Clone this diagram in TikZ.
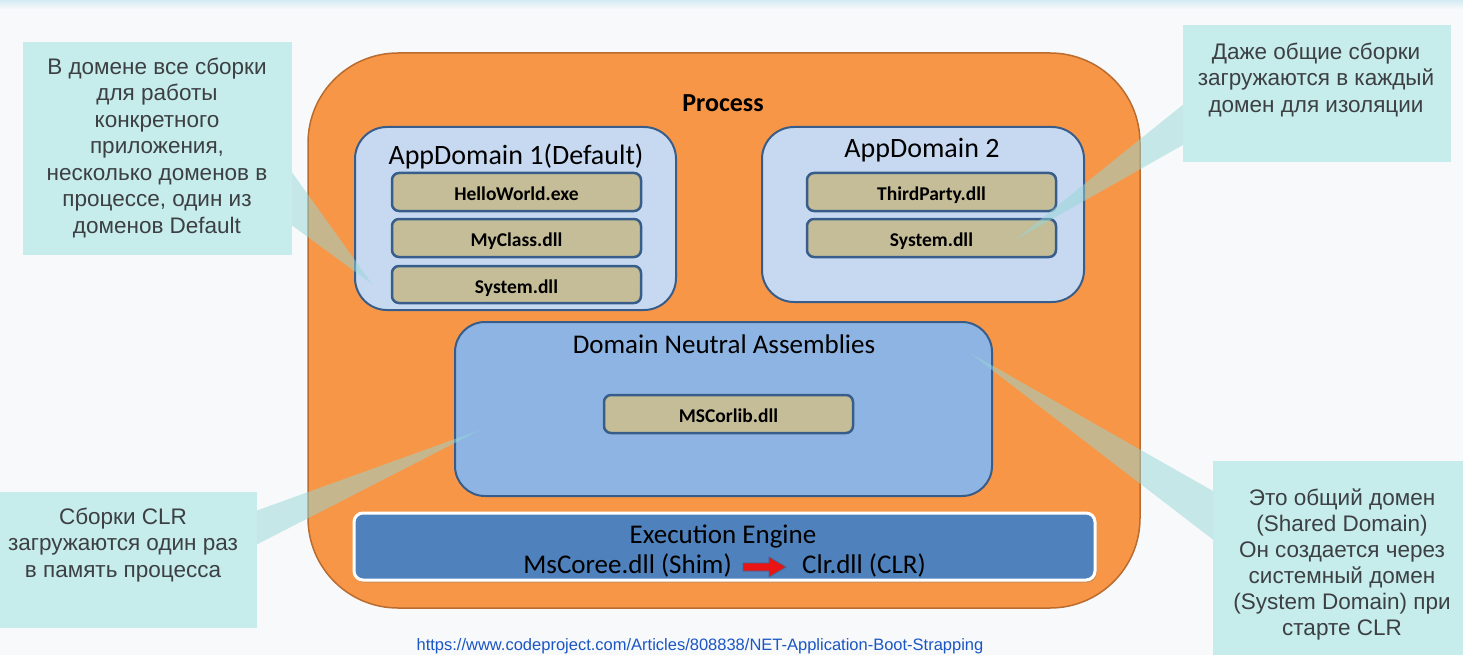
\documentclass[tikz,border=0pt]{standalone}
\usepackage{fontspec}
\setmainfont{Carlito}
\newfontfamily\callfont{Liberation Sans}
\usetikzlibrary{calc,shadows}
\definecolor{bgc}{RGB}{248,249,250}
\definecolor{bandc}{RGB}{212,235,244}
\definecolor{procfill}{RGB}{247,150,70}
\definecolor{procline}{RGB}{186,108,48}
\definecolor{adfill}{RGB}{198,217,241}
\definecolor{edgeblue}{RGB}{56,93,138}
\definecolor{tanfill}{RGB}{196,189,151}
\definecolor{dnafill}{RGB}{142,180,227}
\definecolor{eefill}{RGB}{79,129,189}
\definecolor{callfill}{RGB}{199,236,236}
\definecolor{callptr}{RGB}{150,215,215}
\definecolor{calltext}{RGB}{60,64,67}
\definecolor{urlc}{RGB}{26,86,196}
\definecolor{arrred}{RGB}{235,20,20}
\definecolor{arredge}{RGB}{70,100,140}
\begin{document}
\begin{tikzpicture}[x=1pt,y=-1pt,
  procbox/.style={draw=procline, line width=1.5pt, fill=procfill, rounded corners=90pt, inner sep=0pt, minimum width=832pt, minimum height=555pt},
  adbox/.style={draw=edgeblue, line width=2pt, fill=adfill, rounded corners=32pt, inner sep=0pt},
  dnabox/.style={draw=edgeblue, line width=2pt, fill=dnafill, rounded corners=30pt, inner sep=0pt},
  tanbox/.style={draw=edgeblue, line width=2.5pt, fill=tanfill, rounded corners=7pt, minimum width=249pt, minimum height=38pt, inner sep=0pt, font=\bfseries\fontsize{19.5}{22}\selectfont, text height=21pt, text depth=4pt},
  eebox/.style={draw=white, line width=3pt, fill=eefill, rounded corners=9pt, inner sep=0pt, drop shadow={opacity=0.35, shadow xshift=1.5pt, shadow yshift=-2.5pt}},
  lbl/.style={inner sep=0pt, anchor=base},
  bigtxt/.style={lbl, font=\fontsize{28}{32}\selectfont},
  eetxt/.style={inner sep=0pt, font=\fontsize{27}{31}\selectfont},
  callbox/.style={fill=callfill, inner sep=0pt},
  ptr/.style={fill=callptr, fill opacity=0.5},
  calltxt/.style={font=\callfont\fontsize{22.5}{26.5}\selectfont, text=calltext, align=center, anchor=north, inner sep=0pt},
  urltxt/.style={lbl, font=\callfont\fontsize{16.5}{20}\selectfont, text=urlc}
]
\useasboundingbox (0,0) rectangle (1463,655);
\clip (0,0) rectangle (1463,655);
\fill[bgc] (0,0) rectangle (1463,655);
\shade[top color=bandc, bottom color=bgc] (0,0) rectangle (1463,9);

% process
\node[procbox] (proc) at (724,330.5) {};
\node[lbl, font=\bfseries\fontsize{26}{30}\selectfont] (proct) at (723,112) {Process};

% AppDomain 1
\node[adbox, minimum width=321pt, minimum height=183pt] (ad1) at (515.5,218.5) {};
\node[bigtxt] (ad1t) at (516,165) {AppDomain 1(Default)};
\node[tanbox] (hw) at (516.5,192) {HelloWorld.exe};
\node[tanbox] (mc) at (516.5,238) {MyClass.dll};
\node[tanbox, minimum height=37pt] (sys1) at (516.5,284.5) {System.dll};

% AppDomain 2
\node[adbox, minimum width=322pt, minimum height=175pt] (ad2) at (923,214.5) {};
\node[bigtxt] (ad2t) at (922,158) {AppDomain 2};
\node[tanbox] (tp) at (931.5,192) {ThirdParty.dll};
\node[tanbox] (sys2) at (931.5,238) {System.dll};

% Domain neutral
\node[dnabox, minimum width=537pt, minimum height=174pt] (dna) at (723.5,409) {};
\node[lbl, font=\fontsize{27}{31}\selectfont] (dnat) at (724,353) {Domain Neutral Assemblies};
\node[tanbox] (msc) at (728.5,414) {MSCorlib.dll};

% Execution engine
\node[eebox, minimum width=741pt, minimum height=67pt] (ee) at (724.5,546.5) {};
\node[eetxt, anchor=base] (eet) at (723,543) {Execution Engine};
\node[eetxt, anchor=base east] (ms) at (732,573) {MsCoree.dll (Shim)};
\node[eetxt, anchor=base west] (clr) at (802,573) {Clr.dll (CLR)};
\draw[fill=arrred, draw=arredge, line width=0.8pt]
  ($(ms.base east)+(11,-10)$) -- ($(ms.base east)+(37,-10)$) -- ($(ms.base east)+(37,-16)$)
  -- ($(clr.base west)+(-16,-6)$) -- ($(ms.base east)+(37,4)$) -- ($(ms.base east)+(37,-2)$)
  -- ($(ms.base east)+(11,-2)$) -- cycle;

% callout pointers
\fill[ptr] (286,164) -- (372,284) -- (286,221) -- cycle;
\fill[ptr] (1190,99) -- (1015,240) -- (1190,141) -- cycle;
\fill[ptr] (250,513) -- (480,430) -- (250,548) -- cycle;
\fill[ptr] (1220,495) -- (970,353) -- (1220,545) -- cycle;

% callout boxes
\node[callbox, minimum width=269pt, minimum height=213pt] (c1) at (157.5,148.5) {};
\node[callbox, minimum width=268pt, minimum height=137pt] (c2) at (1317,93.5) {};
\node[callbox, minimum width=267pt, minimum height=136pt] (c3) at (123.5,560) {};
\node[callbox, minimum width=262pt, minimum height=209pt] (c4) at (1344,565.5) {};

\node[calltxt] (t1) at (157,55.4) {\strut В домене все сборки\\для работы\\конкретного\\приложения,\\несколько доменов в\\процессе, один из\\доменов Default};
\node[calltxt] (t2) at (1316,40.4) {\strut Даже общие сборки\\загружаются в каждый\\домен для изоляции};
\node[calltxt] (t3) at (123,505.4) {\strut Сборки CLR\\загружаются один раз\\в память процесса};
\node[calltxt, font=\callfont\fontsize{22.5}{26}\selectfont] (t4) at (1342,486.8) {\strut Это общий домен\\(Shared Domain)\\Он создается через\\системный домен\\(System Domain) при\\старте CLR};

% url
\node[urltxt] (url) at (700,650) {https://www.codeproject.com/Articles/808838/NET-Application-Boot-Strapping};
\end{tikzpicture}
\end{document}
